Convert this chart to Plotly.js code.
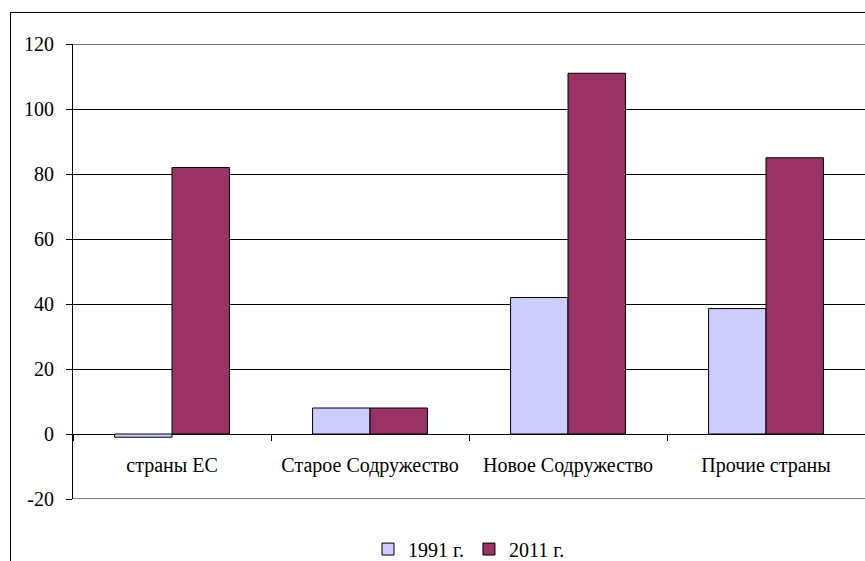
<!DOCTYPE html>
<html>
<head>
<meta charset="utf-8">
<script src="https://cdn.plot.ly/plotly-3.0.1.min.js"></script>
<style>
  html, body { margin: 0; padding: 0; background: #fff; }
  #wrap { position: relative; width: 865px; height: 561px; overflow: hidden; }
  #frame { position: absolute; left: 10px; top: 12px; width: 900px; height: 600px; border: 1px solid #000; pointer-events: none; }
  #chart { position: absolute; left: 0; top: 0; width: 865px; height: 561px; }
</style>
</head>
<body>
<div id="wrap">
  <div id="chart"></div>
  <div id="frame"></div>
</div>
<script>
const categories = ["страны ЕС", "Старое Содружество", "Новое Содружество", "Прочие страны"];
const seriesNames = ["1991 г.", "2011 г."];
const values1991 = [-1, 8, 42, 38.6];
const values2011 = [82, 8, 111, 85];
const yTicks = [-20, 0, 20, 40, 60, 80, 100, 120];
const yTickText = ["-20", "0", "20", "40", "60", "80", "100", "120"];

const serif = "'Liberation Serif'";
const font = { family: serif, size: 20, color: "#000" };

const traces = [
  { type: "bar", name: seriesNames[0], x: categories, y: values1991,
    marker: { color: "#CCCCFF", line: { color: "#000", width: 1 } } },
  { type: "bar", name: seriesNames[1], x: categories, y: values2011,
    marker: { color: "#993366", line: { color: "#000", width: 1 } } }
];

const layout = {
  width: 865, height: 561,
  margin: { l: 73, r: 0, t: 44, b: 62, autoexpand: false },
  paper_bgcolor: "rgba(0,0,0,0)",
  plot_bgcolor: "#fff",
  font: font,
  barmode: "group",
  bargap: 0.42,
  bargroupgap: 0,
  showlegend: true,
  legend: { orientation: "h", x: 0.5, xanchor: "center", y: -0.11, yanchor: "middle",
            font: font, itemwidth: 30, traceorder: "normal", tracegroupgap: 0 },
  xaxis: {
    type: "category",
    anchor: "free", position: 1 - 390/455,
    tickson: "boundaries", ticks: "outside", ticklen: 6, tickcolor: "#000",
    showline: false, showgrid: false, zeroline: false,
    ticklabelstandoff: 17,
    tickfont: font
  },
  yaxis: {
    range: [-20, 120],
    tickvals: yTicks,
    ticktext: yTickText,
    ticks: "outside", ticklen: 6, tickcolor: "#000",
    ticklabelstandoff: 8,
    showline: true, linecolor: "#000", linewidth: 1,
    showgrid: true, gridcolor: "#000", gridwidth: 1,
    zeroline: true, zerolinecolor: "#000", zerolinewidth: 1,
    tickfont: font
  },
  shapes: [
    { type: "line", xref: "paper", yref: "y", x0: 0, x1: 1, y0: yTicks[0], y1: yTicks[0], line: { color: "#000", width: 1 } },
    { type: "line", xref: "paper", yref: "y", x0: 0, x1: 1, y0: yTicks[yTicks.length - 1], y1: yTicks[yTicks.length - 1], line: { color: "#000", width: 1 } }
  ]
};

Plotly.newPlot("chart", traces, layout, { staticPlot: true });
</script>
</body>
</html>
